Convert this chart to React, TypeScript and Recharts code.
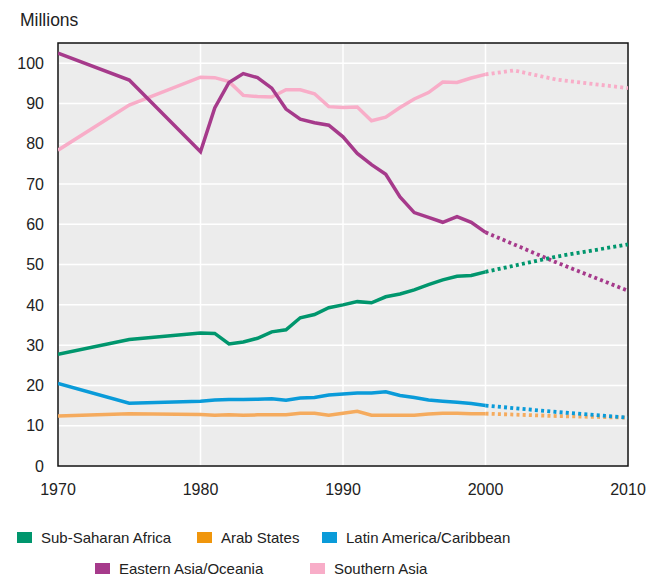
import { LineChart, Line, XAxis, YAxis, CartesianGrid, ReferenceArea } from 'recharts';

const FONT = '"Liberation Sans", Arial, sans-serif';

// observed years (solid) and projection years (dotted)
const years = [1970, 1975, 1980, 1981, 1982, 1983, 1984, 1985, 1986, 1987, 1988, 1989, 1990,
  1991, 1992, 1993, 1994, 1995, 1996, 1997, 1998, 1999, 2000];
const projYears = [2000, 2002, 2005, 2010];

const subSaharan = [27.7, 31.4, 33.0, 32.9, 30.3, 30.8, 31.7, 33.3, 33.8, 36.8, 37.6, 39.3, 40.0,
  40.8, 40.5, 42.0, 42.7, 43.7, 45.0, 46.2, 47.1, 47.3, 48.2];
const arabStates = [12.4, 13.0, 12.8, 12.6, 12.7, 12.6, 12.7, 12.7, 12.7, 13.1, 13.1, 12.6, 13.1,
  13.6, 12.6, 12.6, 12.6, 12.6, 12.9, 13.1, 13.1, 13.0, 13.0];
const latinAmerica = [20.5, 15.6, 16.1, 16.4, 16.5, 16.5, 16.6, 16.7, 16.3, 16.9, 17.0, 17.6, 17.9,
  18.1, 18.1, 18.4, 17.5, 17.0, 16.4, 16.1, 15.8, 15.5, 15.0];
const easternAsia = [102.5, 95.8, 78.0, 88.9, 95.2, 97.4, 96.4, 93.8, 88.6, 86.1, 85.2, 84.6, 81.7,
  77.6, 74.8, 72.4, 66.8, 62.9, 61.7, 60.5, 61.9, 60.5, 58.0];
const southernAsia = [78.4, 89.6, 96.5, 96.4, 95.4, 92.0, 91.7, 91.6, 93.4, 93.4, 92.4, 89.2, 89.0,
  89.1, 85.7, 86.6, 89.0, 91.1, 92.7, 95.3, 95.2, 96.3, 97.2];

// projections (null = no reading at that year)
const subSaharanProj = [48.2, null, 52.0, 55.0];
const arabStatesProj = [13.0, null, 12.4, 12.0];
const latinAmericaProj = [15.0, null, 13.4, 12.0];
const easternAsiaProj = [58.0, null, 50.5, 43.5];
const southernAsiaProj = [97.2, 98.2, 95.9, 93.8];

const yTicks = [0, 10, 20, 30, 40, 50, 60, 70, 80, 90, 100];
const xTicks = [1970, 1980, 1990, 2000, 2010];

const SERIES = [
  { key: 'southern', name: 'Southern Asia', color: '#f8adc8', values: southernAsia, proj: southernAsiaProj },
  { key: 'eastern', name: 'Eastern Asia/Oceania', color: '#a63a8b', values: easternAsia, proj: easternAsiaProj },
  { key: 'subsaharan', name: 'Sub-Saharan Africa', color: '#00966d', values: subSaharan, proj: subSaharanProj },
  { key: 'arab', name: 'Arab States', color: '#f5ab5e', values: arabStates, proj: arabStatesProj },
  { key: 'latin', name: 'Latin America/Caribbean', color: '#0a9bd9', values: latinAmerica, proj: latinAmericaProj },
];

const LEGEND = [
  { name: 'Sub-Saharan Africa', color: '#00966d', x: 17, y: 529 },
  { name: 'Arab States', color: '#f0960c', x: 197, y: 529 },
  { name: 'Latin America/Caribbean', color: '#0a9bd9', x: 322, y: 529 },
  { name: 'Eastern Asia/Oceania', color: '#a63a8b', x: 95, y: 560 },
  { name: 'Southern Asia', color: '#f8adc8', x: 310, y: 560 },
];

// build one row per year
function buildRows() {
  const allYears = Array.from(new Set([...years, ...projYears])).sort((a, b) => a - b);
  return allYears.map((yr) => {
    const row: Record<string, number | null> = { year: yr };
    SERIES.forEach((s) => {
      const i = years.indexOf(yr);
      row[s.key] = i >= 0 ? s.values[i] : null;
      const j = projYears.indexOf(yr);
      row[s.key + 'Proj'] = j >= 0 ? s.proj[j] : null;
    });
    return row;
  });
}

const rows = buildRows();

export default function App() {
  return (
    <div style={{ position: 'absolute', left: 0, top: 0, width: 665, height: 576, background: '#fff', fontFamily: FONT }}>
      <div style={{ position: 'absolute', left: 20, top: 10, fontSize: 17.5, color: '#222' }}>Millions</div>
      <LineChart width={665} height={576} data={rows} margin={{ top: 43, right: 37, bottom: 80, left: 8 }}>
        <CartesianGrid stroke="#ffffff" strokeWidth={1.5} fill="#ececec" fillOpacity={1}
          horizontalValues={yTicks} verticalValues={xTicks} />
        <XAxis dataKey="year" type="number" domain={[1970, 2010]} ticks={xTicks} allowDataOverflow
          axisLine={false} tickLine={false} tickMargin={12} height={30}
          tick={{ fontSize: 16, fill: '#222', fontFamily: FONT }} />
        <YAxis type="number" domain={[0, 105]} ticks={yTicks} allowDataOverflow width={50}
          axisLine={false} tickLine={false} tickMargin={8}
          tick={{ fontSize: 16, fill: '#222', fontFamily: FONT }} />
        {SERIES.map((s) => (
          <Line key={s.key} dataKey={s.key} stroke={s.color} strokeWidth={3.5} dot={false}
            connectNulls isAnimationActive={false} />
        ))}
        {SERIES.map((s) => (
          <Line key={s.key + 'Proj'} dataKey={s.key + 'Proj'} stroke={s.color} strokeWidth={3.8}
            strokeDasharray="3 3.2" dot={false} connectNulls isAnimationActive={false} />
        ))}
        <ReferenceArea x1={1970} x2={2010} y1={0} y2={105} fill="none" stroke="#111" strokeWidth={1.5} ifOverflow="visible" />
      </LineChart>
      {LEGEND.map((l) => (
        <div key={l.name} style={{ position: 'absolute', left: l.x, top: l.y, display: 'flex', alignItems: 'center', fontSize: 15, color: '#222', whiteSpace: 'nowrap' }}>
          <span style={{ display: 'inline-block', width: 15, height: 11, background: l.color, marginRight: 9 }} />
          {l.name}
        </div>
      ))}
    </div>
  );
}
